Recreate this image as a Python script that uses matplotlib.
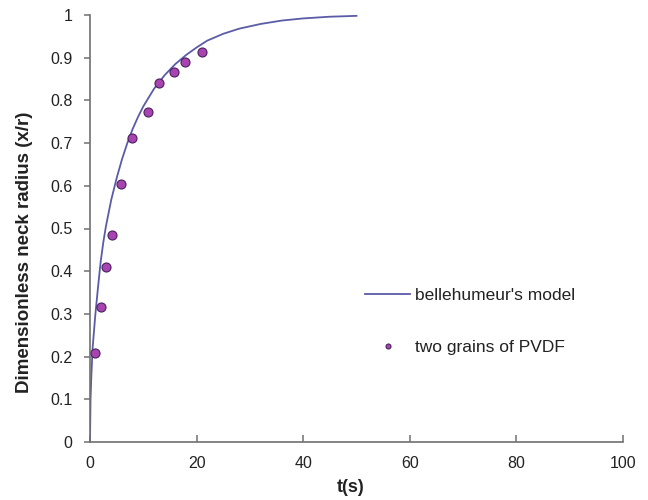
import matplotlib
matplotlib.use("Agg")
import matplotlib.pyplot as plt

# Model curve
model_t = [0, 0.1, 0.25, 0.5, 1.0, 1.5, 2.0, 2.5, 3.0, 4.0, 5.0, 6.0, 7.0, 8.0,
           9.0, 10.0, 12.0, 14.0, 16.0, 18.0, 20.0, 22.0, 25.0, 28.0, 32.0, 36.0,
           40.0, 45.0, 50.0]
model_v = [0, 0.10, 0.155, 0.222, 0.298, 0.362, 0.422, 0.468, 0.506, 0.568, 0.618,
           0.662, 0.700, 0.733, 0.761, 0.786, 0.827, 0.859, 0.885, 0.906, 0.924,
           0.940, 0.956, 0.968, 0.979, 0.987, 0.992, 0.996, 0.998]

# Experimental points
exp_t = [0.94, 2.0, 3.0, 4.06, 5.88, 7.94, 10.8, 12.9, 15.8, 17.9, 21.1]
exp_v = [0.208, 0.315, 0.41, 0.484, 0.604, 0.711, 0.773, 0.841, 0.866, 0.889, 0.913]

xticks = [0, 20, 40, 60, 80, 100]
yticks = [0, 0.1, 0.2, 0.3, 0.4, 0.5, 0.6, 0.7, 0.8, 0.9, 1]
ytick_labels = ["0", "0.1", "0.2", "0.3", "0.4", "0.5", "0.6", "0.7", "0.8", "0.9", "1"]

plt.rcParams['font.family'] = ['Liberation Sans', 'DejaVu Sans']

fig = plt.figure(figsize=(6.48, 5.0), dpi=100)
ax = fig.add_axes([90/648, 58/500, 533/648, 427/500])

line_color = '#5b5ba8'
ax.plot(model_t, model_v, color=line_color, lw=1.3, label="bellehumeur's model", zorder=2)
ax.plot(exp_t, exp_v, 'o', color='#a844b0', mec='#4a2060', mew=0.8, ms=6.5,
        label='two grains of PVDF', zorder=3, ls='none')

ax.set_xlim(0, 100)
ax.set_ylim(0, 1)
ax.set_xticks(xticks)
ax.set_xticklabels([str(v) for v in xticks])
ax.set_yticks(yticks)
ax.set_yticklabels(ytick_labels)

for s in ['top', 'right']:
    ax.spines[s].set_visible(False)
for s in ['left', 'bottom']:
    ax.spines[s].set_color('#707070')
    ax.spines[s].set_linewidth(1.2)

ax.tick_params(axis='x', direction='in', length=5, width=1.1, color='#707070',
               labelsize=11.5, pad=10, labelcolor='#222222')
ax.tick_params(axis='y', direction='out', length=4.5, width=1.1, color='#707070',
               labelsize=11.5, pad=8, labelcolor='#222222')

ax.set_xlabel('t(s)', fontsize=13, fontweight='bold', color='#222222', va='center')
ax.xaxis.set_label_coords((351 - 90) / 533, (442 - 488) / 427)
ax.set_ylabel('Dimensionless neck radius (x/r)', fontsize=13.5, fontweight='bold',
              color='#222222', va='center')
ax.yaxis.set_label_coords((25 - 90) / 533, (442 - 252) / 427)

leg = ax.legend(loc='upper left', bbox_to_anchor=((365 - 90) / 533, (442 - 288) / 427),
                frameon=False, fontsize=12.5, handlelength=2.6, handletextpad=0.3,
                labelspacing=2.1, markerscale=0.55, borderpad=0, borderaxespad=0)
for t in leg.get_texts():
    t.set_color('#222222')

fig.savefig('out.png', dpi=100)
